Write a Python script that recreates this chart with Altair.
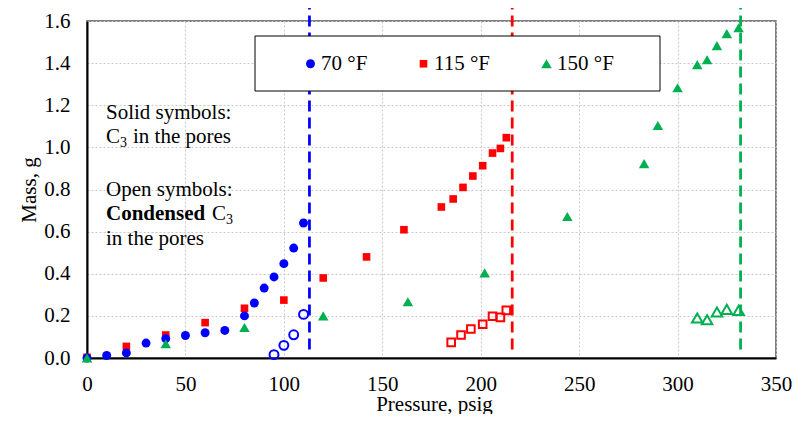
import altair as alt
import pandas as pd

# ---------------- data ----------------
series = ["70 °F", "115 °F", "150 °F"]
colors = ["#0000ff", "#ff0000", "#00b050"]
shapes = ["circle", "square", "triangle-up"]
sizes = [80, 58, 110]

# 70 °F : C3 in the pores (solid) / condensed C3 (open)
p70 = [0, 10, 20, 30, 40, 50, 60, 70, 80, 85, 90, 95, 100, 105, 110]
m70 = [0.0, 0.012, 0.024, 0.071, 0.092, 0.107, 0.12, 0.131, 0.2, 0.261, 0.332, 0.385, 0.448, 0.522, 0.641]
p70c = [95, 100, 105, 110]
m70c = [0.016, 0.06, 0.11, 0.207]

# 115 °F
p115 = [0, 20, 40, 60, 80, 100, 120, 142, 161, 180, 186, 191, 196, 201, 206, 210, 213]
m115 = [0.003, 0.055, 0.109, 0.168, 0.236, 0.275, 0.38, 0.48, 0.609, 0.717, 0.755, 0.81, 0.864, 0.913, 0.973, 0.995, 1.046]
p115c = [185, 190, 195, 201, 206, 210, 213]
m115c = [0.074, 0.109, 0.138, 0.16, 0.198, 0.193, 0.226]

# 150 °F
p150 = [0, 40, 80, 120, 163, 202, 244, 283, 290, 300, 310, 315, 320, 325, 331]
m150 = [0.0, 0.068, 0.145, 0.2, 0.267, 0.404, 0.672, 0.923, 1.104, 1.283, 1.393, 1.416, 1.483, 1.54, 1.568]
p150c = [310, 315, 320, 325, 331]
m150c = [0.19, 0.182, 0.218, 0.231, 0.226]

# dew-point / saturation pressures (dashed lines)
limit_pressure = [113, 216, 332]

x_ticks = [0, 50, 100, 150, 200, 250, 300, 350]
y_ticks = [0.0, 0.2, 0.4, 0.6, 0.8, 1.0, 1.2, 1.4, 1.6]

ann_texts = ["Solid symbols:", "C", "3", "in the pores",
             "Open symbols:", "Condensed", "C", "3", "in the pores"]

# ---------------- tables ----------------
rows = []


def add(name, ps, ms, cond):
    for p, m in zip(ps, ms):
        rows.append({"series": name, "pressure": p, "mass": m, "condensed": cond})


# drawing order: red, blue, green (green on top)
add(series[1], p115, m115, False)
add(series[0], p70, m70, False)
add(series[2], p150, m150, False)
add(series[1], p115c, m115c, True)
add(series[0], p70c, m70c, True)
add(series[2], p150c, m150c, True)
df = pd.DataFrame(rows)

rules_df = pd.DataFrame({"series": series, "pressure": limit_pressure})

FONT = "Liberation Serif"
FS = 21
W, H = 689, 337

color_scale = alt.Scale(domain=series, range=colors)
shape_scale = alt.Scale(domain=series, range=shapes)
size_scale = alt.Scale(type="ordinal", domain=series, range=sizes)

X = alt.X("pressure:Q", scale=alt.Scale(domain=[0, 350], nice=False),
          axis=alt.Axis(values=x_ticks, title="Pressure, psig", labelPadding=15,
                        labelFlush=False,
                        titleX=347, titleY=52, titleBaseline="alphabetic",
                        titleAlign="center"))
Y = alt.Y("mass:Q", scale=alt.Scale(domain=[0, 1.6], nice=False),
          axis=alt.Axis(values=y_ticks, format=".1f", title="Mass, g", labelPadding=17,
                        labelFlush=False,
                        titleX=-52, titleY=H / 2, titleAngle=270,
                        titleBaseline="alphabetic", titleAlign="center"))

legend = alt.Legend(title=None, orient="none", legendX=213, legendY=32,
                    direction="horizontal", columns=3, columnPadding=45,
                    labelFont=FONT, labelFontSize=FS, labelColor="black",
                    labelOffset=0, symbolSize=60, padding=0)

rules = alt.Chart(rules_df).mark_rule(strokeDash=[11, 6], strokeWidth=2.75).encode(
    x=X,
    y=alt.datum(0.04),
    y2=alt.datum(1.75),
    color=alt.Color("series:N", scale=color_scale, legend=None),
)

box = alt.Chart(alt.Data(values=[{}])).mark_rect(
    fill="white", stroke="black", strokeWidth=1
).encode(x=alt.value(168), x2=alt.value(573), y=alt.value(15), y2=alt.value(70))

base = alt.Chart(df)
solid = base.transform_filter("!datum.condensed").mark_point(
    filled=True, opacity=1
).encode(
    x=X, y=Y,
    color=alt.Color("series:N", scale=color_scale, legend=legend),
    shape=alt.Shape("series:N", scale=shape_scale, legend=legend),
    size=alt.Size("series:N", scale=size_scale, legend=None),
)
hollow = base.transform_filter("datum.condensed").mark_point(
    filled=False, opacity=1, strokeWidth=2
).encode(
    x=X, y=Y,
    color=alt.Color("series:N", scale=color_scale, legend=None),
    shape=alt.Shape("series:N", scale=shape_scale, legend=None),
    size=alt.Size("series:N", scale=size_scale, legend=None),
)


def label(text, x, y, size=FS, weight="normal"):
    return alt.Chart(alt.Data(values=[{}])).mark_text(
        text=text, align="left", baseline="alphabetic", font=FONT,
        fontSize=size, fontWeight=weight, color="black"
    ).encode(x=alt.value(x), y=alt.value(y))


ann_x = [19, 19, 33, 46, 19, 19, 125, 139, 19]
ann_y = [98, 122, 126, 122, 175, 199, 199, 203, 224]
ann_size = [FS, FS, 14, FS, FS, FS, FS, 14, FS]
ann_weight = ["normal"] * 5 + ["bold"] + ["normal"] * 3

texts = [label(t, x, y, s, w) for t, x, y, s, w in zip(ann_texts, ann_x, ann_y, ann_size, ann_weight)]

chart = alt.layer(rules, box, solid, hollow, *texts).resolve_legend(
    color="independent", shape="independent", size="independent"
).properties(
    width=W, height=H,
    autosize=alt.AutoSizeParams(type="none"),
    padding={"left": 79, "top": 13, "right": 17, "bottom": 56},
    background="white",
).configure_axis(
    labelFont=FONT, labelFontSize=FS, labelColor="black",
    titleFont=FONT, titleFontSize=FS, titleFontWeight="normal", titleColor="black",
    grid=True, gridColor="#c8c8c8", gridDash=[2, 2], gridWidth=1,
    ticks=False, tickSize=0, domainColor="black", domainWidth=2,
).configure_view(
    stroke="#555555", strokeWidth=1.5
)

chart.save("out.html", embed_options={"renderer": "svg", "actions": False})
